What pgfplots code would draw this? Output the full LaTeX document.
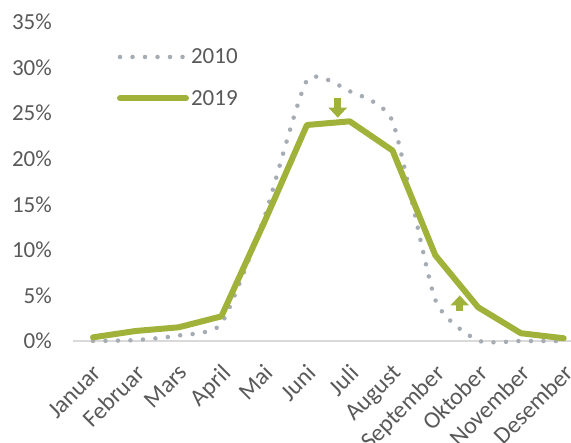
\documentclass[border=0pt]{standalone}
\usepackage{pgfplots}
\pgfplotsset{compat=1.18}
\usepackage{fontspec}
\setmainfont{Carlito}
\usetikzlibrary{arrows.meta}
\definecolor{txt}{RGB}{89,89,89}
\definecolor{olive}{RGB}{160,178,58}
\definecolor{dotgray}{RGB}{166,172,180}
\definecolor{axisgray}{RGB}{217,217,217}
\begin{document}
\begin{tikzpicture}
\begin{axis}[
  at={(0pt,0pt)}, anchor=south west,
  scale only axis, width=498pt, height=319pt,
  xmin=-0.467, xmax=11.17, ymin=0, ymax=35,
  axis x line*=bottom, axis y line*=left,
  y axis line style={draw=none},
  x axis line style={draw=axisgray, line width=1.5pt, -},
  xtick={0,...,11},
  xticklabels={Januar,Februar,Mars,April,Mai,Juni,Juli,August,September,Oktober,November,Desember},
  ytick={0,5,...,35},
  yticklabel={\pgfmathprintnumber{\tick}\%},
  major tick length=0pt,
  tick style={draw=none},
  tick label style={font=\fontsize{23}{27}\selectfont, text=txt},
  /pgf/number format/assume math mode=true,
  xticklabel style={xshift=-1pt, yshift=-22pt, rotate=45, anchor=north east, inner sep=0pt, font=\fontsize{24}{28}\selectfont},
  yticklabel style={anchor=east, inner sep=0pt, xshift=-21pt},
  clip=false,
  legend style={at={(0.088,0.923)}, anchor=north west, draw=none, fill=none, inner sep=0pt,
    row sep=21pt, nodes={inner sep=2pt, text=txt}, font=\fontsize{23}{27}\selectfont},
  legend cell align=left,
  legend image code/.code={\draw[#1] (0pt,0pt) -- (66pt,0pt);},
]
\addplot[dotgray, line width=4.5pt, line cap=round, dash pattern=on 0pt off 12.5pt, smooth, tension=0.33]
  coordinates {(0,0) (1,0.1) (2,0.6) (3,1.9) (4,13.5) (5,28.6) (6,27.4) (7,24.1) (8,4.5) (9,0.05) (10,0) (11,0)};
\addlegendentry{2010}
\addplot[olive, line width=6pt, line join=round, line cap=round]
  coordinates {(0,0.4) (1,1.1) (2,1.5) (3,2.7) (4,13.0) (5,23.7) (6,24.1) (7,20.9) (8,9.4) (9,3.7) (10,0.85) (11,0.3)};
\addlegendentry{2019}
\draw[olive, line width=7pt, -{Triangle[width=18pt,length=10pt]}] (axis cs:5.72,26.7) -- (axis cs:5.72,24.5);
\draw[olive, line width=7pt, -{Triangle[width=18pt,length=10pt]}] (axis cs:8.57,3.3) -- (axis cs:8.57,5.0);
\end{axis}
\pgfresetboundingbox
\path (-73pt,-102pt) rectangle (498pt,341pt);
\end{tikzpicture}
\end{document}
